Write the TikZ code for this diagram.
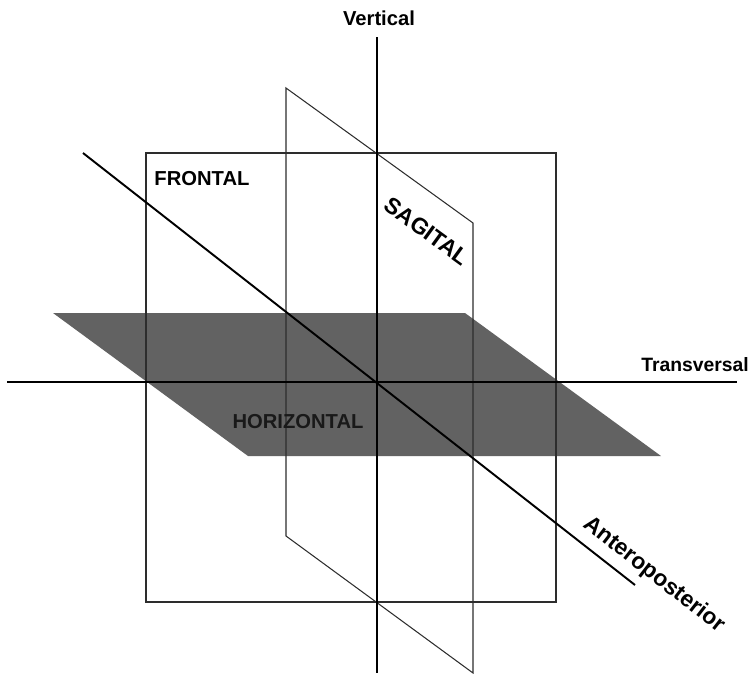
\documentclass[tikz,border=0pt]{standalone}
\usepackage{fontspec}
\setmainfont{Liberation Sans}
\usetikzlibrary{positioning}
\definecolor{planegray}{RGB}{98,98,98}
\definecolor{edgegray}{RGB}{45,45,45}

\begin{document}
\begin{tikzpicture}[x=0.02cm, y=-0.02cm,
    axis/.style={line width=1.1pt, black},
    lbl/.style={inner sep=0pt, font=\bfseries\fontsize{11.5}{13}\selectfont},
    slant/.style={lbl, font=\bfseries\fontsize{13}{15}\selectfont}]
    \useasboundingbox (0,0) rectangle (754,673);

    % Horizontal plane (filled, lines go on top)
    \fill[planegray] (53,313) -- (465,313) -- (661,456) -- (248,456) -- cycle;

    % Frontal plane
    \draw[line width=1.1pt, edgegray] (146,153) rectangle (556,602);

    % Sagittal plane
    \draw[line width=0.6pt, edgegray] (286,88) -- (473,223) -- (473,673) -- (286,536) -- cycle;

    % The three axes
    \draw[axis] (377,37) -- (377,673);
    \draw[axis] (7,382) -- (737,382);
    \draw[axis] (83,153) -- (635,585);

    % Names of axes and planes
    \node[lbl] (vert) at (379,18) {Vertical};
    \node[lbl, font=\bfseries\fontsize{11}{13}\selectfont] (trans) at (695,365) {Transversal};
    \node[lbl] (front) at (202,179) {FRONTAL};
    \node[lbl, text=black!90] (horiz) at (298,422) {HORIZONTAL};
    \node[slant, rotate=-36] (sag) at (427,231) {SAGITAL};
    \node[slant, rotate=-38] (ap) at (654,575) {Anteroposterior};
\end{tikzpicture}
\end{document}
